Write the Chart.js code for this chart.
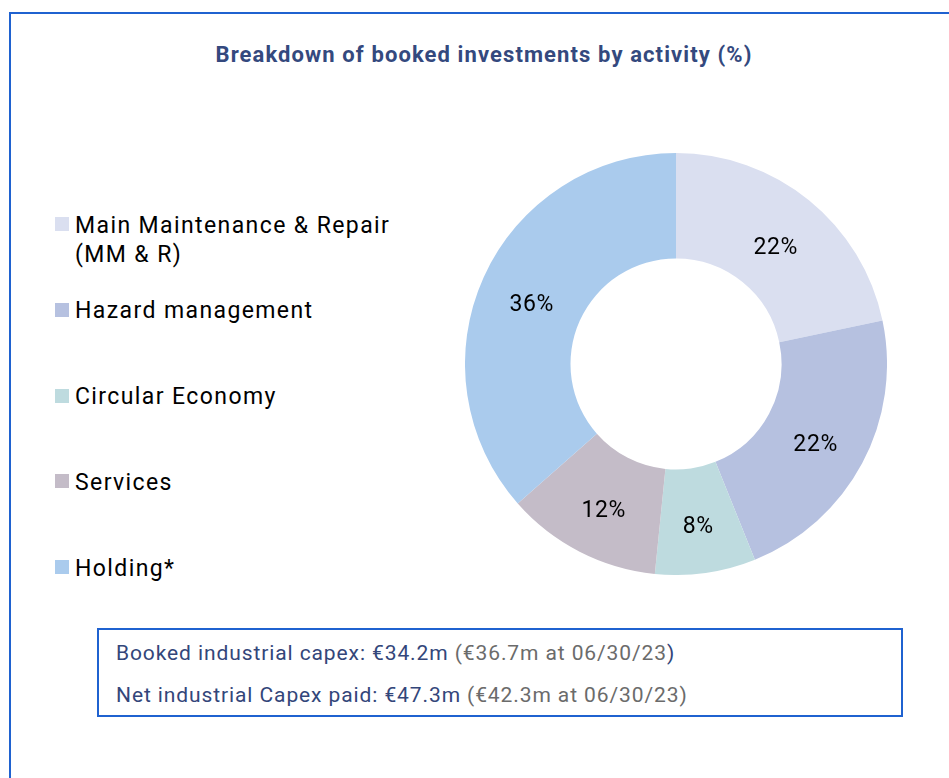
<!DOCTYPE html>
<html>
<head>
<meta charset="utf-8">
<script src="https://cdn.jsdelivr.net/npm/chart.js@4.4.1/dist/chart.umd.min.js"></script>
<style>
  html, body { margin: 0; padding: 0; background: #ffffff; }
  body { width: 949px; height: 778px; position: relative; overflow: hidden; font-family: Roboto, "Noto Sans", sans-serif; }
  #frame { position: absolute; left: 9px; top: 12px; width: 960px; height: 800px; border-left: 2px solid #1F62D0; border-top: 2px solid #1F62D0; }
  #title { position: absolute; left: 0; top: 41px; width: 968px; text-align: center; font-weight: 700; font-size: 22px; line-height: 28px; color: #34497E; letter-spacing: 1.1px; }
  #legend { position: absolute; left: 55px; top: 210.6px; }
  .item { position: relative; height: 85.8px; }
  .sw { position: absolute; left: 0; top: 6.4px; width: 14px; height: 14px; }
  .tx { position: absolute; left: 20px; top: 0; width: 345px; font-size: 23px; line-height: 29px; color: #000; letter-spacing: 1.4px; }
  #chartBox { position: absolute; left: 465px; top: 153px; width: 422px; height: 422px; }
  #note { position: absolute; left: 97px; top: 628px; width: 802px; height: 85px; border: 2px solid #1F62D0; }
  .nl { position: absolute; left: 17px; font-size: 21px; line-height: 42px; color: #33467A; white-space: nowrap; letter-spacing: 0.9px; }
  .gr { color: #6B6B6B; }
</style>
</head>
<body>
<div id="frame"></div>
<div id="title"></div>
<div id="legend"></div>
<div id="chartBox"><canvas id="c" width="422" height="422"></canvas></div>
<div id="note">
  <div class="nl" id="n1" style="top:1.8px"></div>
  <div class="nl" id="n2" style="top:43.8px"></div>
</div>
<script>
const chartTitle = 'Breakdown of booked investments by activity (%)';
const categories = ['Main Maintenance & Repair (MM & R)', 'Hazard management', 'Circular Economy', 'Services', 'Holding*'];
const shares = [21.7, 22.2, 7.7, 11.9, 36.5];
const shareLabels = ['22%', '22%', '8%', '12%', '36%'];
const colors = ['#DADFF0', '#B6C1E0', '#BEDBDF', '#C4BCC8', '#AACBED'];
const noteLine1 = ['Booked industrial capex: €34.2m ', '(€36.7m at 06/30/23', ')'];
const noteLine2 = ['Net industrial Capex paid: €47.3m ', '(€42.3m at 06/30/23)', ''];

document.getElementById('title').textContent = chartTitle;

const legendEl = document.getElementById('legend');
categories.forEach((c, i) => {
  const it = document.createElement('div'); it.className = 'item';
  const sw = document.createElement('div'); sw.className = 'sw'; sw.style.background = colors[i];
  const tx = document.createElement('div'); tx.className = 'tx'; tx.textContent = c;
  it.appendChild(sw); it.appendChild(tx); legendEl.appendChild(it);
});

function fillNote(id, parts) {
  const el = document.getElementById(id);
  const a = document.createElement('span'); a.textContent = parts[0];
  const b = document.createElement('span'); b.className = 'gr'; b.textContent = parts[1];
  const c = document.createElement('span'); c.textContent = parts[2];
  el.appendChild(a); el.appendChild(b); el.appendChild(c);
}
fillNote('n1', noteLine1);
fillNote('n2', noteLine2);

const labelPlugin = {
  id: 'sliceLabels',
  afterDatasetsDraw(chart) {
    const ctx = chart.ctx;
    const meta = chart.getDatasetMeta(0);
    ctx.save();
    ctx.font = '23px Roboto, sans-serif';
    if ('letterSpacing' in ctx) ctx.letterSpacing = '0.6px';
    ctx.fillStyle = '#000000';
    ctx.textAlign = 'center';
    ctx.textBaseline = 'alphabetic';
    meta.data.forEach((arc, i) => {
      const p = arc.tooltipPosition();
      ctx.fillText(shareLabels[i], p.x, p.y + 12.5);
    });
    ctx.restore();
  }
};

new Chart(document.getElementById('c'), {
  type: 'doughnut',
  data: {
    labels: categories,
    datasets: [{ data: shares, backgroundColor: colors, borderWidth: 0, hoverOffset: 0 }]
  },
  options: {
    responsive: false,
    animation: false,
    cutout: '50%',
    layout: { padding: 0 },
    plugins: { legend: { display: false }, tooltip: { enabled: false }, title: { display: false } }
  },
  plugins: [labelPlugin]
});
</script>
</body>
</html>
